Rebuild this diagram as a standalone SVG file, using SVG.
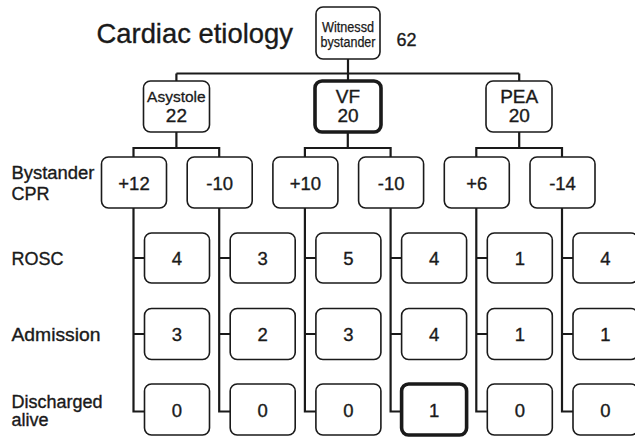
<svg xmlns="http://www.w3.org/2000/svg" width="635" height="437" viewBox="0 0 635 437">
<style>
text{font-family:"Liberation Sans",Arial,Helvetica,sans-serif;fill:#1a1a1a;stroke:#1a1a1a;stroke-width:0.35}
.box{fill:#fff;stroke:#1a1a1a;stroke-width:1.6}
.thick{fill:#fff;stroke:#1a1a1a;stroke-width:3.6}
.c{fill:none;stroke:#1a1a1a;stroke-width:2.2}
.n{font-size:18.5px;text-anchor:middle}
.lab{font-size:18px}
.br{font-size:19px;text-anchor:middle}
</style>
<rect width="635" height="437" fill="#fff"/>
<text x="96.5" y="42.5" style="font-size:27.4px">Cardiac etiology</text>
<text x="396.5" y="45.5" style="font-size:18px">62</text>
<g id="labels" class="lab">
<text x="11.5" y="179" textLength="83" lengthAdjust="spacingAndGlyphs">Bystander</text>
<text x="11.5" y="200">CPR</text>
<text x="11.5" y="264.5">ROSC</text>
<text x="11.5" y="341" textLength="89" lengthAdjust="spacingAndGlyphs">Admission</text>
<text x="11.5" y="407.5">Discharged</text>
<text x="11.5" y="426">alive</text>
</g>
<g id="connectors" class="c">
<path d="M348 59V73.5M176.4 73.5H519.2M176.4 73.5V81M519.2 73.5V81M348 73.5V81"/>
<path d="M176.4 132V148M133.5 157V148H219.2V157"/>
<path d="M347.8 132V148M304.9 157V148H390.6V157"/>
<path d="M519.2 132V148M476.3 157V148H562V157"/>
<path d="M133.5 208V411.5H144.5M133.5 258H144.5M133.5 334H144.5"/>
<path d="M219.2 208V411.5H230.2M219.2 258H230.2M219.2 334H230.2"/>
<path d="M304.9 208V411.5H315.9M304.9 258H315.9M304.9 334H315.9"/>
<path d="M390.6 208V411.5H401.6M390.6 258H401.6M390.6 334H401.6"/>
<path d="M476.3 208V411.5H487.3M476.3 258H487.3M476.3 334H487.3"/>
<path d="M562 208V411.5H573M562 258H573M562 334H573"/>
</g>
<g id="witnessed"><rect class="box" x="316" y="7" width="64" height="52" rx="7"/>
<text x="348" y="31.5" style="font-size:14px;text-anchor:middle;stroke-width:0.25" textLength="52" lengthAdjust="spacingAndGlyphs">Witnessd</text>
<text x="348" y="47" style="font-size:14px;text-anchor:middle;stroke-width:0.25" textLength="55" lengthAdjust="spacingAndGlyphs">bystander</text></g>
<g id="asystole"><rect class="box" x="143.5" y="81" width="66" height="51" rx="7"/>
<text x="176.4" y="101.5" style="font-size:15.5px;text-anchor:middle;stroke-width:0.3">Asystole</text>
<text class="br" x="176.4" y="122">22</text></g>
<g id="vf"><rect class="thick" x="315" y="81" width="66" height="51" rx="7"/>
<text class="br" x="348" y="103">VF</text>
<text class="br" x="348" y="122">20</text></g>
<g id="pea"><rect class="box" x="486" y="81" width="66" height="51" rx="7"/>
<text class="br" x="519.2" y="103">PEA</text>
<text class="br" x="519.2" y="122">20</text></g>
<g id="cpr1"><rect class="box" x="101.5" y="157" width="65" height="51" rx="7"/><text class="n" x="134" y="190">+12</text></g>
<g id="cpr2"><rect class="box" x="187.2" y="157" width="65" height="51" rx="7"/><text class="n" x="219.7" y="190">-10</text></g>
<g id="cpr3"><rect class="box" x="272.9" y="157" width="65" height="51" rx="7"/><text class="n" x="305.4" y="190">+10</text></g>
<g id="cpr4"><rect class="box" x="358.6" y="157" width="65" height="51" rx="7"/><text class="n" x="391.1" y="190">-10</text></g>
<g id="cpr5"><rect class="box" x="444.3" y="157" width="65" height="51" rx="7"/><text class="n" x="476.8" y="190">+6</text></g>
<g id="cpr6"><rect class="box" x="530" y="157" width="65" height="51" rx="7"/><text class="n" x="562.5" y="190">-14</text></g>
<g id="rosc1"><rect class="box" x="144.5" y="233" width="65" height="50" rx="7"/><text class="n" x="177" y="265">4</text></g>
<g id="rosc2"><rect class="box" x="230.2" y="233" width="65" height="50" rx="7"/><text class="n" x="262.7" y="265">3</text></g>
<g id="rosc3"><rect class="box" x="315.9" y="233" width="65" height="50" rx="7"/><text class="n" x="348.4" y="265">5</text></g>
<g id="rosc4"><rect class="box" x="401.6" y="233" width="65" height="50" rx="7"/><text class="n" x="434.1" y="265">4</text></g>
<g id="rosc5"><rect class="box" x="487.3" y="233" width="65" height="50" rx="7"/><text class="n" x="519.8" y="265">1</text></g>
<g id="rosc6"><rect class="box" x="573" y="233" width="65" height="50" rx="7"/><text class="n" x="605.5" y="265">4</text></g>
<g id="adm1"><rect class="box" x="144.5" y="308.5" width="65" height="51" rx="7"/><text class="n" x="177" y="341">3</text></g>
<g id="adm2"><rect class="box" x="230.2" y="308.5" width="65" height="51" rx="7"/><text class="n" x="262.7" y="341">2</text></g>
<g id="adm3"><rect class="box" x="315.9" y="308.5" width="65" height="51" rx="7"/><text class="n" x="348.4" y="341">3</text></g>
<g id="adm4"><rect class="box" x="401.6" y="308.5" width="65" height="51" rx="7"/><text class="n" x="434.1" y="341">4</text></g>
<g id="adm5"><rect class="box" x="487.3" y="308.5" width="65" height="51" rx="7"/><text class="n" x="519.8" y="341">1</text></g>
<g id="adm6"><rect class="box" x="573" y="308.5" width="65" height="51" rx="7"/><text class="n" x="605.5" y="341">1</text></g>
<g id="dis1"><rect class="box" x="144.5" y="384" width="65" height="51" rx="7"/><text class="n" x="177" y="417">0</text></g>
<g id="dis2"><rect class="box" x="230.2" y="384" width="65" height="51" rx="7"/><text class="n" x="262.7" y="417">0</text></g>
<g id="dis3"><rect class="box" x="315.9" y="384" width="65" height="51" rx="7"/><text class="n" x="348.4" y="417">0</text></g>
<g id="dis4"><rect class="thick" x="401.6" y="384" width="65" height="51" rx="7"/><text class="n" x="434.1" y="417">1</text></g>
<g id="dis5"><rect class="box" x="487.3" y="384" width="65" height="51" rx="7"/><text class="n" x="519.8" y="417">0</text></g>
<g id="dis6"><rect class="box" x="573" y="384" width="65" height="51" rx="7"/><text class="n" x="605.5" y="417">0</text></g>
</svg>
